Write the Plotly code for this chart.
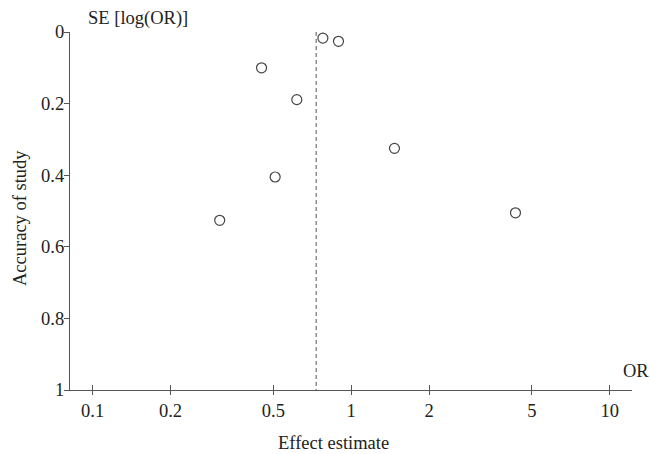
import plotly.graph_objects as go

# Data
odds_ratio = [0.777, 0.893, 0.450, 0.616, 0.508, 0.310, 1.470, 4.32]
se_log_or = [0.017, 0.026, 0.100, 0.189, 0.405, 0.526, 0.325, 0.505]
pooled_or = 0.732
x_tick_vals = [0.1, 0.2, 0.5, 1, 2, 5, 10]
x_tick_text = ["0.1", "0.2", "0.5", "1", "2", "5", "10"]
y_tick_vals = [0, 0.2, 0.4, 0.6, 0.8, 1]
y_tick_text = ["0", "0.2", "0.4", "0.6", "0.8", "1"]

FONT = "Liberation Serif, Times New Roman, serif"
FS = 18.5
AX = "#555555"
TXT = "#222222"

fig = go.Figure()
fig.add_trace(go.Scatter(
    x=[pooled_or, pooled_or], y=[0, 1], mode="lines",
    line=dict(color=AX, width=1, dash="4px,3px"), showlegend=False, hoverinfo="skip"))
fig.add_trace(go.Scatter(
    x=odds_ratio, y=se_log_or, mode="markers",
    marker=dict(symbol="circle-open", size=10, color="#444444", line=dict(width=1.2)),
    showlegend=False))
# helper trace for the inner half of the crossing x ticks
fig.add_trace(go.Scatter(x=[pooled_or], y=[0.5], xaxis="x2", mode="markers",
                         marker=dict(opacity=0), showlegend=False, hoverinfo="skip"))

xrange_log = [-1.0877, 1.0862]
fig.update_layout(
    width=650, height=454,
    margin=dict(l=70, r=18, t=32, b=64),
    paper_bgcolor="white", plot_bgcolor="white",
    font=dict(family=FONT, size=FS, color=TXT),
    xaxis=dict(type="log", range=xrange_log, tickvals=x_tick_vals, ticktext=x_tick_text,
               showgrid=False, zeroline=False, showline=True, linecolor=AX, linewidth=1.2,
               ticks="outside", ticklen=4, tickcolor=AX, tickwidth=1.2,
               tickfont=dict(family=FONT, size=FS, color=TXT)),
    xaxis2=dict(type="log", range=xrange_log, overlaying="x", side="bottom",
                tickvals=x_tick_vals, showticklabels=False, showgrid=False, zeroline=False,
                showline=False, ticks="inside", ticklen=5, tickcolor=AX, tickwidth=1.2),
    yaxis=dict(range=[1, 0], tickvals=y_tick_vals, ticktext=y_tick_text,
               showgrid=False, zeroline=False, showline=True, linecolor=AX, linewidth=1.2,
               ticks="outside", ticklen=5, tickcolor=AX, tickwidth=1.2,
               ticklabelstandoff=-4,
               tickfont=dict(family=FONT, size=FS, color=TXT)),
    annotations=[
        dict(text="SE [log(OR)]", xref="paper", yref="paper", x=(86 - 70) / 562, y=1,
             yshift=14, xanchor="left", yanchor="middle", showarrow=False,
             font=dict(family=FONT, size=FS, color=TXT)),
        dict(text="OR", xref="paper", yref="paper", x=1, y=0, xshift=-11, yshift=19,
             xanchor="left", yanchor="middle", showarrow=False,
             font=dict(family=FONT, size=FS, color=TXT)),
        dict(text="Effect estimate", xref="paper", yref="paper", x=(333 - 70) / 562, y=0,
             yshift=-53, xanchor="center", yanchor="middle", showarrow=False,
             font=dict(family=FONT, size=FS, color=TXT)),
        dict(text="Accuracy of study", xref="paper", yref="paper", x=0, y=(390 - 218) / 358,
             xshift=-50, textangle=-90, xanchor="center", yanchor="middle", showarrow=False,
             font=dict(family=FONT, size=FS, color=TXT)),
    ],
)
fig.write_html("out.html", config={"displayModeBar": False},
               post_script="document.body.style.margin='0';document.body.style.padding='0';")
